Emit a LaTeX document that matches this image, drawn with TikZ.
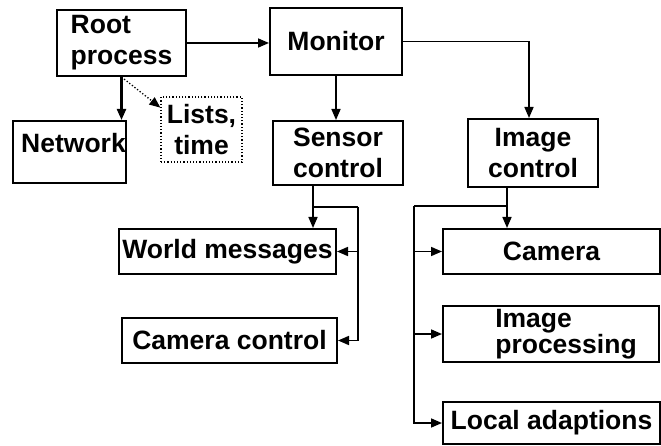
\documentclass[tikz,border=0pt]{standalone}
\usepackage{fontspec}
\setmainfont{Liberation Sans}
\usetikzlibrary{arrows.meta,calc}
\begin{document}
\begin{tikzpicture}[x=1pt,y=-1pt,
  box/.style={draw=black,line width=2pt,inner sep=0pt,align=center,
    font=\bfseries\fontsize{26.5}{31}\selectfont},
  dotbox/.style={box,line width=1.2pt,dotted},
  conn/.style={line width=1.6pt},
  arr/.style={conn,-{Triangle[length=11pt,width=9pt]}},
  darr/.style={line width=1.3pt,dotted,-{Triangle[length=11pt,width=9pt]}}]
\useasboundingbox (0,0) rectangle (661,446);
\node[box,minimum width=129pt,minimum height=66pt,align=left] (root) at (121.5,43) {Root\\process};
\node[box,minimum width=132pt,minimum height=67pt] (mon) at (336,41.5) {Monitor};
\node[box,minimum width=113pt,minimum height=62pt,text depth=18pt] (net) at (69.5,152) {\hspace*{8pt}Network};
\node[dotbox,minimum width=81pt,minimum height=65pt] (lists) at (201.5,129.5) {Lists,\\time};
\node[box,minimum width=130pt,minimum height=64pt] (sens) at (338,153) {Sensor\\control};
\node[box,minimum width=130pt,minimum height=68pt] (imgc) at (533,153) {Image\\control};
\node[box,minimum width=217pt,minimum height=45pt] (world) at (227.5,251.5) {World messages};
\node[box,minimum width=215pt,minimum height=45pt] (camc) at (229.5,340.5) {Camera control};
\node[box,minimum width=217pt,minimum height=45pt] (cam) at (551.5,251.5) {Camera};
\node[box,minimum width=216pt,minimum height=56pt,align=left,font=\bfseries\fontsize{26.5}{24}\selectfont] (imgp) at (551,334) {\hspace*{30pt}Image\\\hspace*{30pt}processing};
\node[box,minimum width=217pt,minimum height=42pt] (local) at (551.5,423) {Local adaptions};
% top connectors
\draw[arr] (root.east) -- (root.east -| mon.west);
\draw[arr,line width=2.2pt] (root.south) -- (root.south |- net.north);
\draw[darr] (root.south) -- ($(lists.north west)!0.17!(lists.south west)$);
\draw[arr] (mon.south) -- (mon.south |- sens.north);
\coordinate (mi) at ([xshift=-4pt]imgc.north);
\draw[arr] (mon.east) -| (mi);
% sensor control branch
\coordinate (sb) at ([xshift=-25pt]sens.south);
\coordinate (sj) at (313,207);
\coordinate (sr) at (358,207);
\draw[arr] (sb) -- (sb |- world.north);
\draw[conn] (sj) -- (sr);
\draw[arr] (sr) |- (camc.east);
\draw[arr] (sr |- world.east) -- (world.east);
% image control branch
\coordinate (ib) at ([xshift=-26pt]imgc.south);
\coordinate (ij) at (507,206);
\coordinate (il) at (414,206);
\draw[arr] (ib) -- (ib |- cam.north);
\draw[conn] (ij) -- (il);
\draw[arr] (il) |- (local.west);
\draw[arr] (il |- cam.west) -- (cam.west);
\draw[arr] (il |- imgp.west) -- (imgp.west);
\end{tikzpicture}
\end{document}
